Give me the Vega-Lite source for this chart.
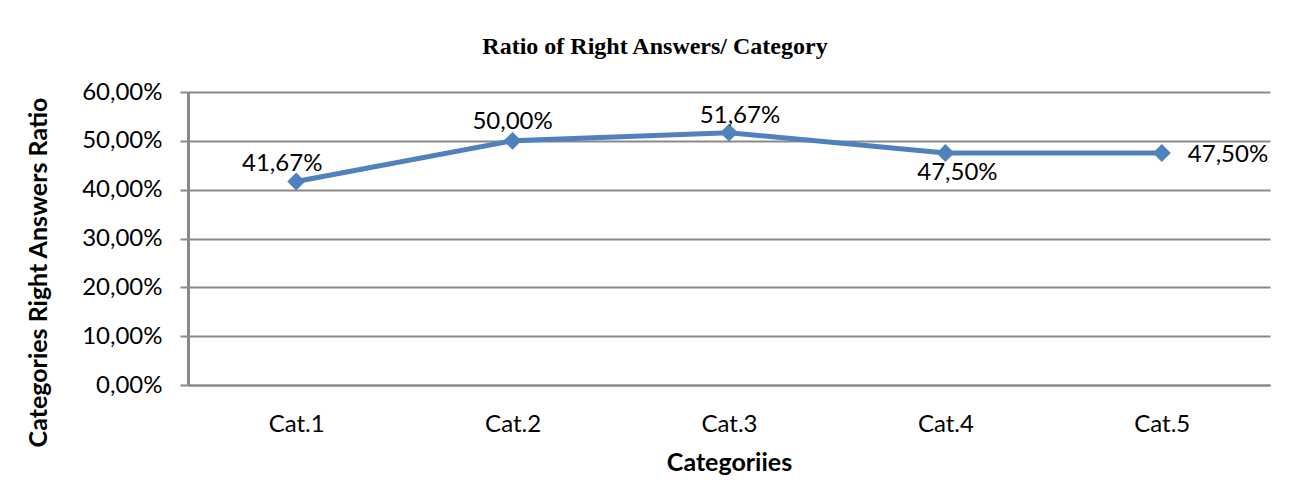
{
  "$schema": "https://vega.github.io/schema/vega-lite/v6.json",
  "autosize": "none",
  "width": 1082,
  "height": 293,
  "padding": {"left": 188, "top": 92, "right": 30, "bottom": 117},
  "background": "white",
  "config": {
    "locale": {"number": {"decimal": ",", "thousands": ".", "grouping": [3], "currency": ["", " €"]}},
    "view": {"stroke": null},
    "font": "Lato"
  },
  "title": {
    "text": "Ratio of Right Answers/ Category",
    "font": "Liberation Serif",
    "fontSize": 24,
    "fontWeight": "bold",
    "color": "black",
    "offset": 21,
    "anchor": "middle",
    "dx": -74
  },
  "data": {
    "values": [
      {"category": "Cat.1", "ratio": 0.4167},
      {"category": "Cat.2", "ratio": 0.5},
      {"category": "Cat.3", "ratio": 0.5167},
      {"category": "Cat.4", "ratio": 0.475},
      {"category": "Cat.5", "ratio": 0.475}
    ]
  },
  "encoding": {
    "x": {
      "field": "category",
      "type": "nominal",
      "scale": {"type": "point", "padding": 0.5},
      "axis": {
        "title": "Categoriies",
        "titleFont": "Lato",
        "titleFontSize": 25,
        "titleFontWeight": "bold",
        "titleColor": "black",
        "titlePadding": 14,
        "labelAngle": 0,
        "labelFont": "Lato",
        "labelFontSize": 24,
        "labelColor": "black",
        "labelPadding": 27,
        "ticks": false,
        "domainColor": "#898989",
        "domainWidth": 2,
        "grid": false
      }
    },
    "y": {
      "field": "ratio",
      "type": "quantitative",
      "scale": {"domain": [0, 0.6], "nice": false},
      "axis": {
        "title": "Categories Right Answers Ratio",
        "titleFont": "Lato",
        "titleFontSize": 25,
        "titleFontWeight": "bold",
        "titleColor": "black",
        "titlePadding": 30,
        "titleY": 180,
        "values": [0, 0.1, 0.2, 0.3, 0.4, 0.5, 0.6],
        "format": ".2%",
        "labelFont": "Lato",
        "labelFontSize": 24,
        "labelColor": "black",
        "labelPadding": 18,
        "tickSize": 8,
        "tickColor": "#898989",
        "tickWidth": 2,
        "domainColor": "#898989",
        "domainWidth": 3,
        "gridColor": "#898989",
        "gridWidth": 2
      }
    }
  },
  "layer": [
    {
      "mark": {"type": "line", "color": "#4F81BD", "strokeWidth": 5}
    },
    {
      "mark": {"type": "point", "shape": "diamond", "filled": true, "color": "#4F81BD", "opacity": 1, "size": 320}
    },
    {
      "transform": [{"filter": "datum.category === 'Cat.1'"}],
      "mark": {"type": "text", "font": "Lato", "fontSize": 24, "color": "black", "dx": -14, "dy": -18, "baseline": "middle", "align": "center"},
      "encoding": {"text": {"field": "ratio", "type": "quantitative", "format": ".2%"}}
    },
    {
      "transform": [{"filter": "datum.category === 'Cat.2'"}],
      "mark": {"type": "text", "font": "Lato", "fontSize": 24, "color": "black", "dx": 0, "dy": -19, "baseline": "middle", "align": "center"},
      "encoding": {"text": {"field": "ratio", "type": "quantitative", "format": ".2%"}}
    },
    {
      "transform": [{"filter": "datum.category === 'Cat.3'"}],
      "mark": {"type": "text", "font": "Lato", "fontSize": 24, "color": "black", "dx": 11, "dy": -17, "baseline": "middle", "align": "center"},
      "encoding": {"text": {"field": "ratio", "type": "quantitative", "format": ".2%"}}
    },
    {
      "transform": [{"filter": "datum.category === 'Cat.4'"}],
      "mark": {"type": "text", "font": "Lato", "fontSize": 24, "color": "black", "dx": 12, "dy": 20, "baseline": "middle", "align": "center"},
      "encoding": {"text": {"field": "ratio", "type": "quantitative", "format": ".2%"}}
    },
    {
      "transform": [{"filter": "datum.category === 'Cat.5'"}],
      "mark": {"type": "text", "font": "Lato", "fontSize": 24, "color": "black", "dx": 26, "dy": 2, "baseline": "middle", "align": "left"},
      "encoding": {"text": {"field": "ratio", "type": "quantitative", "format": ".2%"}}
    }
  ]
}
